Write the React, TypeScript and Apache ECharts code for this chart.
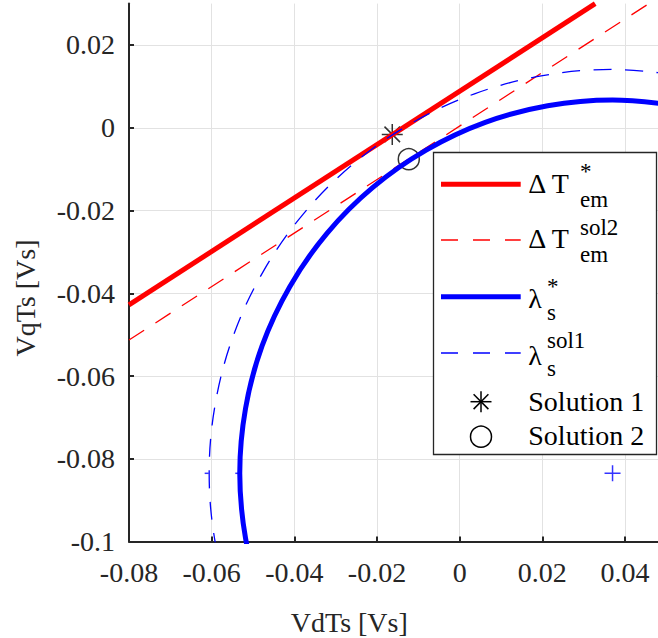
import React, { useEffect, useRef } from "react";
import * as echarts from "echarts";

// ---- data ----
const xTicks = [-0.08, -0.06, -0.04, -0.02, 0, 0.02, 0.04];
const yTicks = [-0.1, -0.08, -0.06, -0.04, -0.02, 0, 0.02];

// Delta T_em^* (straight line)
const torqueRef: [number, number][] = [
  [-0.08, -0.0428],
  [0.0328, 0.03],
];
// Delta T_em^sol2 (straight line, dashed)
const torqueSol2: [number, number][] = [
  [-0.08, -0.0513],
  [0.0458, 0.03],
];
// lambda_s^* (arc, solid)
const fluxRef: [number, number][] = [
  [-0.0478, -0.1144],
  [-0.0518, -0.0992],
  [-0.0532, -0.0835],
  [-0.0518, -0.0678],
  [-0.0478, -0.0527],
  [-0.0411, -0.0384],
  [-0.0321, -0.0255],
  [-0.021, -0.0144],
  [-0.0081, -0.0054],
  [0.0062, 0.0013],
  [0.0213, 0.0053],
  [0.037, 0.0067],
  [0.0527, 0.0053],
];
// lambda_s^sol1 (arc, dashed)
const fluxSol1: [number, number][] = [
  [-0.0547, -0.1169],
  [-0.0591, -0.1004],
  [-0.0606, -0.0835],
  [-0.0591, -0.0666],
  [-0.0547, -0.0501],
  [-0.0475, -0.0347],
  [-0.0378, -0.0208],
  [-0.0257, -0.0087],
  [-0.0118, 0.001],
  [0.0036, 0.0082],
  [0.0201, 0.0126],
  [0.037, 0.0141],
  [0.0539, 0.0126],
];
// small seam marks where each arc closes
const arcSeams: [number, number][] = [
  [-0.0532, -0.0835],
  [-0.0606, -0.0835],
];
const solution1: [number, number][] = [[-0.0163, -0.0016]];
const solution2: [number, number][] = [[-0.0123, -0.0076]];
const arcCenter: [number, number][] = [[0.037, -0.0835]];

const legendNames = ["Δ T", "Δ T", "λ", "λ", "Solution 1", "Solution 2"];
const legendSup = ["*", "sol2", "*", "sol1"];
const legendSub = ["em", "em", "s", "s"];

const FONT = "'Liberation Serif', 'Times New Roman', serif";
const AXIS_COLOR = "#262626";
const RED = "#ff0000";
const BLUE = "#0000ff";

const fmt = (v: number) => {
  const r = Math.round(v * 100) / 100;
  return r === 0 ? "0" : String(r);
};

export default function App() {
  const ref = useRef<HTMLDivElement>(null);

  useEffect(() => {
    if (!ref.current) return;
    const chart = echarts.init(ref.current, undefined, { renderer: "svg" });

    const axisCommon = {
      type: "value" as const,
      interval: 0.02,
      axisLine: { show: true, onZero: false, lineStyle: { color: AXIS_COLOR, width: 2 } },
      axisTick: { show: true, inside: true, length: 5, lineStyle: { color: AXIS_COLOR, width: 2 } },
      splitLine: { show: true, lineStyle: { color: "#e2e2e2", width: 1 } },
    };

    // legend layout
    const rowY = [184.3, 240, 296.7, 353];
    const mainX = 528.3;
    const scriptX = [580, 580, 547, 547];
    const mainDy = [-1.1, -1.1, 2.2, 2.5];
    const supDy = [-13.3, -12.8, -10.7, -12.5];
    const subDy = [14.7, 14, 15.3, 15];
    const lineStyles = [
      { stroke: RED, lineWidth: 5 },
      { stroke: RED, lineWidth: 1.3, lineDash: [17, 15] },
      { stroke: BLUE, lineWidth: 5 },
      { stroke: BLUE, lineWidth: 1.3, lineDash: [17, 15] },
    ];

    const legendEls: any[] = [
      {
        type: "rect",
        shape: { x: 433.5, y: 152.5, width: 223, height: 302 },
        style: { fill: "#fff", stroke: AXIS_COLOR, lineWidth: 1.3 },
        z: 100,
      },
    ];
    for (let i = 0; i < 4; i++) {
      legendEls.push({
        type: "line",
        shape: { x1: 441, y1: rowY[i], x2: 520.7, y2: rowY[i] },
        style: { ...lineStyles[i] },
        z: 101,
      });
      legendEls.push({
        type: "text",
        x: mainX,
        y: rowY[i] + mainDy[i],
        style: { text: legendNames[i], fontFamily: FONT, fontSize: 28, fill: "#000", align: "left", verticalAlign: "middle" },
        z: 101,
      });
      legendEls.push({
        type: "text",
        x: scriptX[i],
        y: rowY[i] + supDy[i],
        style: { text: legendSup[i], fontFamily: FONT, fontSize: 23, fill: "#000", align: "left", verticalAlign: "middle" },
        z: 101,
      });
      legendEls.push({
        type: "text",
        x: scriptX[i],
        y: rowY[i] + subDy[i],
        style: { text: legendSub[i], fontFamily: FONT, fontSize: 23, fill: "#000", align: "left", verticalAlign: "middle" },
        z: 101,
      });
    }
    // Solution markers in legend
    const sx = 481;
    const s1y = 401.7;
    const s2y = 436.7;
    const R = 10.5;
    const D = 7.4;
    const starLines = [
      [0, -R, 0, R],
      [-R, 0, R, 0],
      [-D, -D, D, D],
      [-D, D, D, -D],
    ];
    starLines.forEach((l) =>
      legendEls.push({
        type: "line",
        shape: { x1: sx + l[0], y1: s1y + l[1], x2: sx + l[2], y2: s1y + l[3] },
        style: { stroke: "#000", lineWidth: 1.5 },
        z: 101,
      })
    );
    legendEls.push({
      type: "circle",
      shape: { cx: sx, cy: s2y, r: R },
      style: { fill: "none", stroke: "#000", lineWidth: 1.5 },
      z: 101,
    });
    legendEls.push({
      type: "text",
      x: mainX,
      y: s1y,
      style: { text: legendNames[4], fontFamily: FONT, fontSize: 28, fill: "#000", align: "left", verticalAlign: "middle" },
      z: 101,
    });
    legendEls.push({
      type: "text",
      x: mainX,
      y: s2y - 1,
      style: { text: legendNames[5], fontFamily: FONT, fontSize: 28, fill: "#000", align: "left", verticalAlign: "middle" },
      z: 101,
    });

    // axis titles
    legendEls.push({
      type: "text",
      x: 349.3,
      y: 622.3,
      style: { text: "VdTs [Vs]", fontFamily: FONT, fontSize: 28, fill: AXIS_COLOR, align: "center", verticalAlign: "middle" },
      z: 50,
    });
    legendEls.push({
      type: "text",
      x: 25,
      y: 298,
      rotation: Math.PI / 2,
      style: { text: "VqTs [Vs]", fontFamily: FONT, fontSize: 28, fill: AXIS_COLOR, align: "center", verticalAlign: "middle" },
      z: 50,
    });

    chart.setOption({
      animation: false,
      grid: { left: 129, top: 3.6, width: 529.6, height: 538 },
      xAxis: {
        ...axisCommon,
        min: -0.08,
        max: 0.048,
        axisTick: { ...axisCommon.axisTick, customValues: xTicks },
        axisLabel: {
          customValues: xTicks,
          formatter: fmt,
          margin: 17,
          fontFamily: FONT,
          fontSize: 28,
          color: AXIS_COLOR,
        },
      },
      yAxis: {
        ...axisCommon,
        min: -0.1,
        max: 0.03,
        axisTick: { ...axisCommon.axisTick, customValues: yTicks },
        axisLabel: {
          customValues: yTicks,
          formatter: fmt,
          margin: 14,
          fontFamily: FONT,
          fontSize: 28,
          color: AXIS_COLOR,
        },
      },
      series: [
        {
          type: "line",
          data: torqueRef,
          symbol: "none",
          silent: true,
          lineStyle: { color: RED, width: 5 },
          itemStyle: { color: RED },
        },
        {
          type: "line",
          data: torqueSol2,
          symbol: "none",
          silent: true,
          lineStyle: { color: RED, width: 1.3, type: [18, 13.5] },
          itemStyle: { color: RED },
        },
        {
          type: "line",
          data: fluxRef,
          symbol: "none",
          smooth: 0.35,
          silent: true,
          lineStyle: { color: BLUE, width: 5 },
          itemStyle: { color: BLUE },
        },
        {
          type: "line",
          data: fluxSol1,
          symbol: "none",
          smooth: 0.35,
          silent: true,
          lineStyle: { color: BLUE, width: 1.3, type: [18, 13.5] },
          itemStyle: { color: BLUE },
        },
        {
          type: "scatter",
          data: arcSeams,
          symbol: "rect",
          symbolSize: [4, 1.5],
          symbolOffset: [-2.5, 0],
          silent: true,
          itemStyle: { color: BLUE },
        },
        {
          type: "scatter",
          data: solution1,
          symbol: "path://M0,-10V10M-10,0H10M-7.4,-7.4L7.4,7.4M-7.4,7.4L7.4,-7.4",
          symbolSize: 21,
          silent: true,
          itemStyle: { color: "rgba(0,0,0,0)", borderColor: "#000", borderWidth: 1.5 },
        },
        {
          type: "scatter",
          data: solution2,
          symbol: "circle",
          symbolSize: 21,
          silent: true,
          itemStyle: { color: "rgba(0,0,0,0)", borderColor: "#000", borderWidth: 1.5 },
        },
        {
          type: "scatter",
          data: arcCenter,
          symbol: "path://M0,-10V10M-10,0H10",
          symbolSize: 16,
          silent: true,
          itemStyle: { color: "rgba(0,0,0,0)", borderColor: BLUE, borderWidth: 1.5 },
        },
      ],
      graphic: legendEls,
    });

    return () => chart.dispose();
  }, []);

  return (
    <div
      ref={ref}
      style={{ position: "fixed", left: 0, top: 0, width: 658, height: 638, background: "#fff" }}
    />
  );
}
